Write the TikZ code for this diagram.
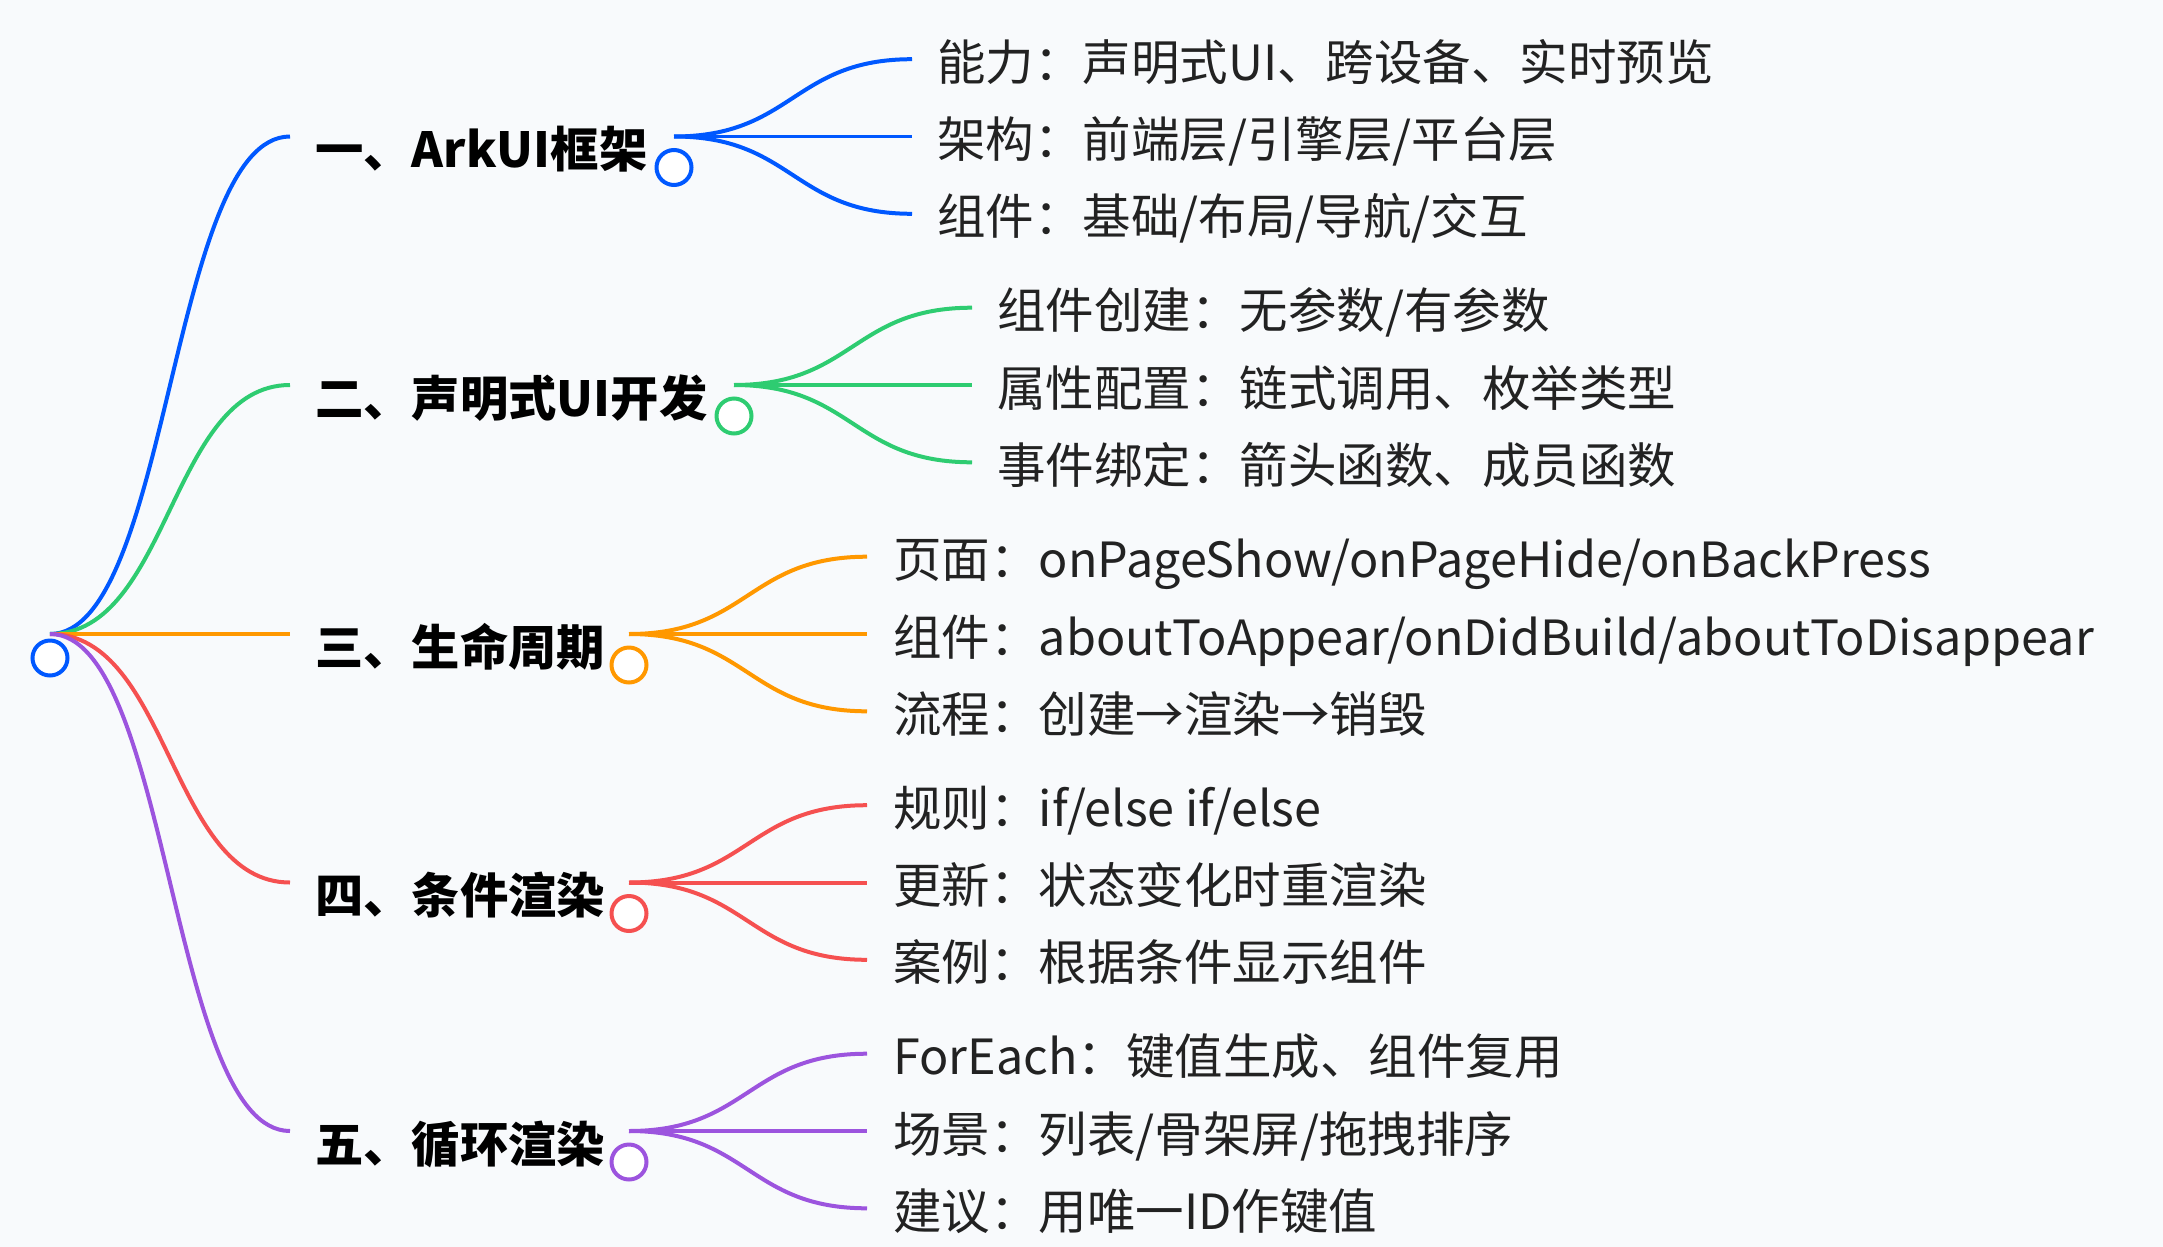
\documentclass[tikz,border=0pt]{standalone}
\usepackage{fontspec}
\setmainfont{Noto Sans CJK SC}
\usetikzlibrary{calc}

\definecolor{bgpage}{RGB}{248,250,252}
\definecolor{arkblue}{RGB}{0,88,255}
\definecolor{arkgreen}{RGB}{46,204,113}
\definecolor{arkorange}{RGB}{255,152,0}
\definecolor{arkred}{RGB}{245,80,80}
\definecolor{arkpurple}{RGB}{156,84,222}
\definecolor{leaftext}{RGB}{34,34,34}

\begin{document}
\begin{tikzpicture}[
  x=0.02cm, y=-0.02cm,
  branch/.style={line width=0.08cm},
  hlink/.style={to path={let \p1=(\tikztostart), \p2=(\tikztotarget) in
      .. controls ({(\x1+\x2)/2},\y1) and ({(\x1+\x2)/2},\y2) .. (\tikztotarget)}},
  knob/.style={circle, draw, fill=white, line width=0.08cm,
               minimum size=0.7cm, inner sep=0pt},
  topic/.style={anchor=base west, inner sep=0pt, text=black,
                font=\fontsize{27.5}{32}\selectfont\bfseries},
  leaf/.style={anchor=base west, inner sep=0pt, text=leaftext,
               font=\fontsize{27.6}{32}\selectfont}
]
  \fill[bgpage] (0,0) rectangle (2163,1247);

  % root
  \coordinate (root) at (50,634);
  \node[knob, draw=arkblue] (rootdot) at (50,658) {};

  % main topics
  \coordinate (e1) at (290,136.5);
  \coordinate (e2) at (290,385);
  \coordinate (e3) at (290,634);
  \coordinate (e4) at (290,882.5);
  \coordinate (e5) at (290,1131);
  \node[topic] (t1) at (315,167.5) {一、ArkUI框架};
  \node[topic] (t2) at (315,416)   {二、声明式UI开发};
  \node[topic] (t3) at (315,665)   {三、生命周期};
  \node[topic] (t4) at (315,913.5) {四、条件渲染};
  \node[topic] (t5) at (315,1162)  {五、循环渲染};

  \coordinate (j1) at (674,136.5);
  \coordinate (j2) at (734,385);
  \coordinate (j3) at (629,634);
  \coordinate (j4) at (629,882.5);
  \coordinate (j5) at (629,1131);
  \node[knob, draw=arkblue]   (k1) at (674,167.5) {};
  \node[knob, draw=arkgreen]  (k2) at (734,416)   {};
  \node[knob, draw=arkorange] (k3) at (629,665)   {};
  \node[knob, draw=arkred]    (k4) at (629,913.5) {};
  \node[knob, draw=arkpurple] (k5) at (629,1162)  {};

  % leaves
  \coordinate (c11) at (912,59.2);
  \coordinate (c12) at (912,136.5);
  \coordinate (c13) at (912,213.8);
  \node[leaf] (l11) at (937,80.2)  {能力：声明式UI、跨设备、实时预览};
  \node[leaf] (l12) at (937,157.5) {架构：前端层/引擎层/平台层};
  \node[leaf] (l13) at (937,234.8) {组件：基础/布局/导航/交互};

  \coordinate (c21) at (972,307.7);
  \coordinate (c22) at (972,385);
  \coordinate (c23) at (972,462.3);
  \node[leaf] (l21) at (997,328.7) {组件创建：无参数/有参数};
  \node[leaf] (l22) at (997,406)   {属性配置：链式调用、枚举类型};
  \node[leaf] (l23) at (997,483.3) {事件绑定：箭头函数、成员函数};

  \coordinate (c31) at (867,556.7);
  \coordinate (c32) at (867,634);
  \coordinate (c33) at (867,711.3);
  \node[leaf] (l31) at (893,577.7) {页面：onPageShow/onPageHide/onBackPress};
  \node[leaf] (l32) at (893,655)   {组件：aboutToAppear/onDidBuild/aboutToDisappear};
  \node[leaf] (l33) at (893,732.3) {流程：创建→渲染→销毁};

  \coordinate (c41) at (867,805.2);
  \coordinate (c42) at (867,882.5);
  \coordinate (c43) at (867,959.8);
  \node[leaf] (l41) at (893,826.2) {规则：if/else if/else};
  \node[leaf] (l42) at (893,903.5) {更新：状态变化时重渲染};
  \node[leaf] (l43) at (893,980.8) {案例：根据条件显示组件};

  \coordinate (c51) at (867,1053.7);
  \coordinate (c52) at (867,1131);
  \coordinate (c53) at (867,1208.3);
  \node[leaf] (l51) at (893,1074.7) {ForEach：键值生成、组件复用};
  \node[leaf] (l52) at (893,1152)   {场景：列表/骨架屏/拖拽排序};
  \node[leaf] (l53) at (893,1229.3) {建议：用唯一ID作键值};

  % links
  \draw[branch, arkblue]   (root) to[hlink] (e1);
  \draw[branch, arkgreen]  (root) to[hlink] (e2);
  \draw[branch, arkorange] (root) to[hlink] (e3);
  \draw[branch, arkred]    (root) to[hlink] (e4);
  \draw[branch, arkpurple] (root) to[hlink] (e5);

  \draw[branch, arkblue] (j1) to[hlink] (c11);
  \draw[branch, arkblue] (j1) to[hlink] (c12);
  \draw[branch, arkblue] (j1) to[hlink] (c13);
  \draw[branch, arkgreen] (j2) to[hlink] (c21);
  \draw[branch, arkgreen] (j2) to[hlink] (c22);
  \draw[branch, arkgreen] (j2) to[hlink] (c23);
  \draw[branch, arkorange] (j3) to[hlink] (c31);
  \draw[branch, arkorange] (j3) to[hlink] (c32);
  \draw[branch, arkorange] (j3) to[hlink] (c33);
  \draw[branch, arkred] (j4) to[hlink] (c41);
  \draw[branch, arkred] (j4) to[hlink] (c42);
  \draw[branch, arkred] (j4) to[hlink] (c43);
  \draw[branch, arkpurple] (j5) to[hlink] (c51);
  \draw[branch, arkpurple] (j5) to[hlink] (c52);
  \draw[branch, arkpurple] (j5) to[hlink] (c53);
\end{tikzpicture}
\end{document}
